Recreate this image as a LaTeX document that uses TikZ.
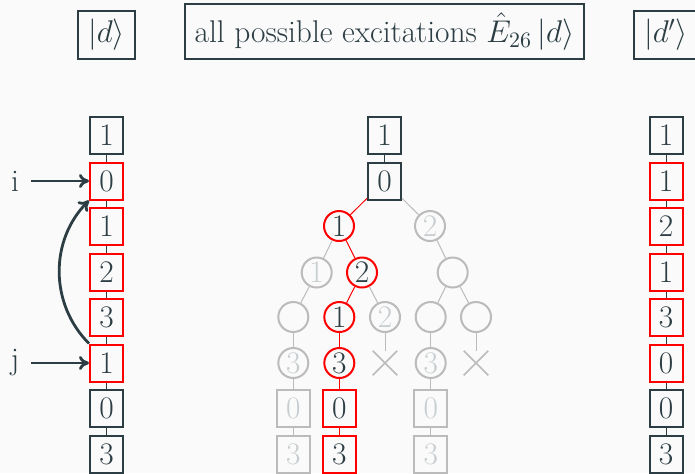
\RequirePackage{fix-cm}
\documentclass[tikz,border=0pt]{standalone}
\usetikzlibrary{shapes.misc,arrows.meta}
\definecolor{dk}{RGB}{44,62,68}
\definecolor{rd}{RGB}{255,0,0}
\definecolor{gb}{RGB}{187,187,187}
\definecolor{gt}{RGB}{200,205,208}
\definecolor{bg}{RGB}{250,250,250}
\tikzset{
  box/.style={draw=dk, line width=1pt, minimum width=16.5pt, minimum height=18.5pt, inner sep=0pt, text=dk},
  rbox/.style={box, draw=rd},
  gbox/.style={box, draw=gb, text=gt},
  circ/.style={circle, draw=rd, line width=1pt, minimum size=15pt, inner sep=0pt, text=dk},
  gcirc/.style={circ, draw=gb, text=gt},
  xmark/.style={cross out, draw=gb, line width=0.75pt, minimum size=11.5pt, inner sep=0pt},
  link/.style={draw=dk, line width=0.5pt},
  rlink/.style={draw=rd, line width=0.5pt},
  glink/.style={draw=gb, line width=0.5pt},
  hdr/.style={draw=dk, line width=1pt, inner ysep=4.25pt, inner xsep=5pt, text=dk, anchor=south},
  arr/.style={draw=dk, line width=1.4pt, -{Computer Modern Rightarrow[length=5pt,width=7pt]}},
  lab/.style={text=dk}
}
\begin{document}
\begin{tikzpicture}[x=0.5pt,y=0.5pt,font=\fontsize{15.7}{18.8}\selectfont]
\fill[bg] (0,0) rectangle (695,-473);
\useasboundingbox (0,0) rectangle (695,-473);
% headers
\node[hdr] (H1) at (106.5,-60) {$|d\rangle$};
\node[hdr] (H2) at (384.5,-60) {all possible excitations $\hat{E}_{26}\,|d\rangle$};
\node[hdr] (H3) at (666,-60) {$|d'\rangle$};
% left column
\node[box]  (L1) at (106.5,-135.5) {1};
\node[rbox] (L2) at (106.5,-181) {0};
\node[rbox] (L3) at (106.5,-226.5) {1};
\node[rbox] (L4) at (106.5,-272) {2};
\node[rbox] (L5) at (106.5,-317.5) {3};
\node[rbox] (L6) at (106.5,-363) {1};
\node[box]  (L7) at (106.5,-408.5) {0};
\node[box]  (L8) at (106.5,-454) {3};
\foreach \a/\b in {L1/L2,L2/L3,L3/L4,L4/L5,L5/L6,L6/L7,L7/L8} \draw[link] (\a) -- (\b);
\node[lab] (il) at (15,-181) {i};
\node[lab] (jl) at (15,-363) {j};
\draw[arr, shorten <=2.5pt] (il.east) -- (L2.west);
\draw[arr, shorten <=2.5pt] (jl.east |- L6.west) -- (L6.west);
\draw[arr] (L6.north west) to[bend left=45] (L2.south west);
% right column
\node[box]  (R1) at (666,-135.5) {1};
\node[rbox] (R2) at (666,-181) {1};
\node[rbox] (R3) at (666,-226.5) {2};
\node[rbox] (R4) at (666,-272) {1};
\node[rbox] (R5) at (666,-317.5) {3};
\node[rbox] (R6) at (666,-363) {0};
\node[box]  (R7) at (666,-408.5) {0};
\node[box]  (R8) at (666,-454) {3};
\foreach \a/\b in {R1/R2,R2/R3,R3/R4,R4/R5,R5/R6,R6/R7,R7/R8} \draw[link] (\a) -- (\b);
% tree
\node[box] (M1) at (384.5,-135.5) {1};
\node[box] (M2) at (384.5,-181) {0};
\node[circ]  (A1) at (339,-226) {1};
\node[gcirc] (A2) at (430,-226) {2};
\node[gcirc] (B1) at (316.7,-272.5) {1};
\node[circ]  (B2) at (362,-272.5) {2};
\node[gcirc] (B3) at (452.7,-272.5) {};
\node[gcirc] (C1) at (293.3,-317) {};
\node[circ]  (C2) at (339.3,-317) {1};
\node[gcirc] (C3) at (385,-317) {2};
\node[gcirc] (C4) at (430.7,-317) {};
\node[gcirc] (C5) at (476,-317) {};
\node[gcirc] (D1) at (293.3,-363) {3};
\node[circ]  (D2) at (339.3,-363) {3};
\node[xmark] (D3) at (385,-363) {};
\node[gcirc] (D4) at (430.7,-363) {3};
\node[xmark] (D5) at (476,-363) {};
\node[gbox] (E1) at (293.3,-408.5) {0};
\node[rbox] (E2) at (339.3,-408.5) {0};
\node[gbox] (E4) at (430.7,-408.5) {0};
\node[gbox] (F1) at (293.3,-454) {3};
\node[rbox] (F2) at (339.3,-454) {3};
\node[gbox] (F4) at (430.7,-454) {3};
\draw[link] (M1) -- (M2);
\foreach \a/\b in {M2/A1,A1/B2,B2/C2,C2/D2,D2/E2,E2/F2} \draw[rlink] (\a) -- (\b);
\foreach \a/\b in {M2/A2,A1/B1,A2/B3,B1/C1,B2/C3,B3/C4,B3/C5,C1/D1,C3/D3,C4/D4,C5/D5,D1/E1,E1/F1,D4/E4,E4/F4} \draw[glink] (\a) -- (\b);
\end{tikzpicture}
\end{document}
